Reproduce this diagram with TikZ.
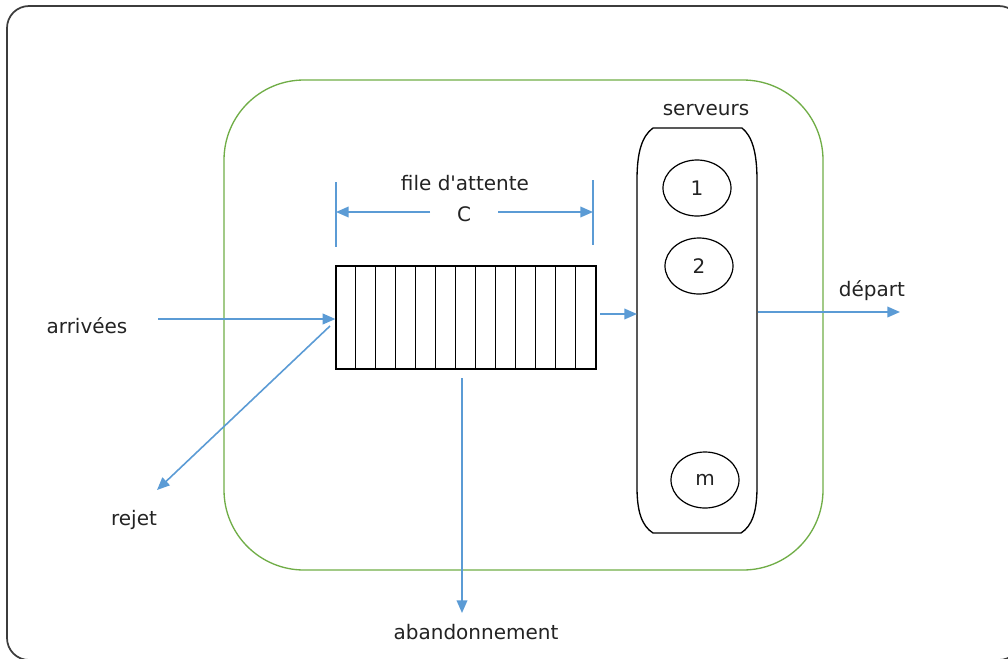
\documentclass[tikz,border=0pt]{standalone}
\usepackage{fontspec}
\setmainfont{DejaVu Sans}
\usepackage{tikz}
\usetikzlibrary{shapes.geometric, arrows.meta, positioning, calc}
\definecolor{myblue}{RGB}{91,155,213}
\definecolor{mygreen}{RGB}{112,173,71}
\definecolor{mydark}{RGB}{35,35,35}
\definecolor{myframe}{RGB}{60,60,60}
\tikzset{
  lbl/.style={font=\fontsize{15}{18}\selectfont, text=mydark, inner sep=1pt},
  flow/.style={-{Triangle[length=9.5pt,width=8pt]}, line width=1.2pt, color=myblue},
  tick/.style={line width=1.2pt, color=myblue},
  queuebox/.style={rectangle, draw=black, line width=0.9pt,
    minimum width=195pt, minimum height=77.25pt, inner sep=0pt},
  cell/.style={line width=0.9pt, color=black},
  server/.style={ellipse, draw=black, line width=0.9pt, inner sep=0pt,
    minimum width=51pt, minimum height=42pt,
    font=\fontsize{15}{18}\selectfont, text=mydark},
  srvline/.style={line width=1pt, color=black},
  zone/.style={draw=mygreen, line width=1pt, rounded corners=60pt}
}

\begin{document}
\begin{tikzpicture}[x=0.75pt, y=-0.75pt]
  \useasboundingbox (0,0) rectangle (1008,658);

  % Outer frame (runs past the page on the right and bottom)
  \begin{scope}
    \clip (0,0) rectangle (1008,658);
    \draw[myframe, line width=1.3pt, rounded corners=16.5pt] (7,6) rectangle (1021,660);
  \end{scope}

  % System boundary
  \draw[zone] (224,80) rectangle (823,570);

  % Queue
  \node[queuebox] (queue) at (466,317.5) {};
  \foreach \i in {1,...,12}
    \draw[cell] ($(queue.south west)+(\i*20,0)$) -- ($(queue.north west)+(\i*20,0)$);

  % Capacity dimension
  \node[lbl] (title) at (465,183) {file d\textquotesingle attente};
  \node[lbl] (cap) at (464,214) {C};
  \coordinate (capLs) at (430,212);
  \coordinate (capRs) at (498,212);
  \coordinate (capL) at (336,212);
  \coordinate (capR) at (593,212);
  \draw[tick] (336,182) -- (336,247);
  \draw[tick] (593,180) -- (593,245);
  \draw[flow] (capLs) -- (capL);
  \draw[flow] (capRs) -- (capR);

  % Servers
  \node[lbl] (srvtitle) at (706,110) {serveurs};
  \draw[srvline] (653,128) -- (742,128)
    .. controls (752,136) and (757,152) .. (757,180) -- (757,487)
    .. controls (757,512) and (752,526) .. (741,533) -- (653,533)
    .. controls (642,526) and (637,512) .. (637,487) -- (637,180)
    .. controls (637,152) and (642,136) .. cycle;
  \node[server] (s1) at (697,188) {1};
  \node[server] (s2) at (699,266) {2};
  \node[server] (sm) at (705,480) {m};
  \coordinate (srvin) at (637,314);
  \coordinate (srvout) at (758,312);

  % Flows
  \node[lbl] (arr) at (87,326) {arrivées};
  \coordinate (arrin) at (158,319);
  \draw[flow] (arrin) -- (arrin -| queue.west);

  \node[lbl] (rej) at (134,520) {rejet};
  \coordinate (rejout) at (330,326);
  \coordinate (rejend) at (157,490);
  \draw[flow] (rejout) -- (rejend);

  \coordinate (qout) at (600,314);
  \draw[flow] (qout) -- (srvin);

  \node[lbl] (dep) at (872,291) {départ};
  \coordinate (depend) at (900,312);
  \draw[flow] (srvout) -- (depend);

  \node[lbl] (aban) at (476,632) {abandonnement};
  \coordinate (abstart) at (462,378);
  \coordinate (abend) at (462,613);
  \draw[flow] (abstart) -- (abend);
\end{tikzpicture}
\end{document}
